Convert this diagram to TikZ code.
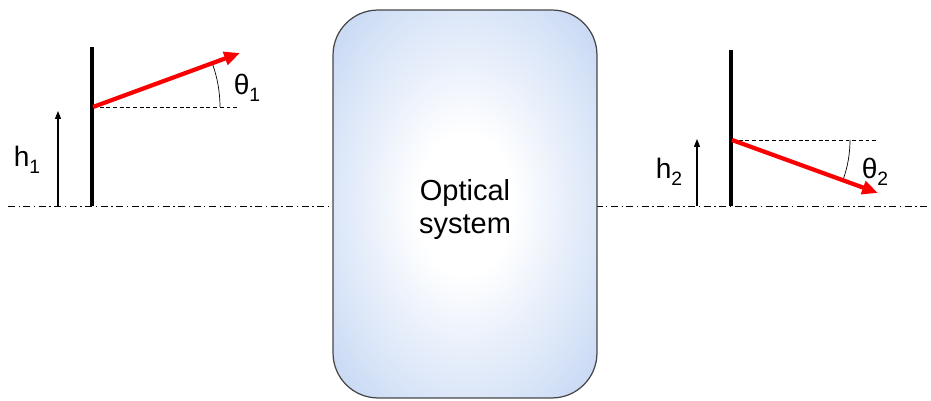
\documentclass[tikz,border=0pt]{standalone}
\usepackage{fontspec}
\setmainfont{Liberation Sans}
\usepackage{tikz}
\usetikzlibrary{arrows.meta,positioning}
\definecolor{boxblue}{RGB}{203,219,245}
\definecolor{boxline}{RGB}{70,70,70}
\definecolor{rayred}{RGB}{250,0,0}
\pgfdeclareradialshading{optshade}{\pgfpoint{0bp}{0bp}}{color(0bp)=(white); color(9bp)=(white); color(32bp)=(boxblue); color(50bp)=(boxblue)}

\begin{document}
\begin{tikzpicture}[x=0.02cm, y=0.02cm,
    axis/.style={line width=0.5pt, dash pattern=on 4pt off 2pt on 0.8pt off 2pt},
    screen/.style={line width=2.4pt},
    ray/.style={rayred, line width=2.4pt, -{Triangle[length=9pt,width=7.5pt]}},
    guide/.style={line width=0.5pt, dash pattern=on 2.2pt off 1.6pt},
    height/.style={line width=0.6pt, -{Triangle[length=4.5pt,width=3.4pt]}},
    optbox/.style={draw=boxline, line width=0.7pt, shading=optshade, rounded corners=0.9cm,
        minimum width=5.28cm, minimum height=7.76cm},
    optlbl/.style={align=center, inner sep=0pt, font=\fontsize{16.5}{18.8}\selectfont},
    lbl/.style={font=\fontsize{16}{18}\selectfont, inner sep=0pt}]

    \useasboundingbox (0,0) rectangle (931,401);

    \coordinate (axl) at (8,195);
    \coordinate (axr) at (930,195);
    \draw[axis] (axl) -- (axr);

    \node[optbox] (opt) at (465,197) {};
    \node[optlbl] (optname) at ([yshift=-0.12cm]opt.center) {Optical\\system};

    % object side
    \coordinate (s1b) at (92,195);
    \coordinate (s1t) at (92,354);
    \coordinate (o1) at (93,294);
    \coordinate (t1) at (240,348);
    \coordinate (d1) at (237,294);
    \coordinate (h1b) at (58,195);
    \coordinate (h1t) at (58,290);
    \draw[screen] (s1b) -- (s1t);
    \draw[guide] (o1) -- (d1);
    \draw[line width=0.4pt] ([shift={(0:127)}]o1) arc[start angle=0, end angle=20, radius=127];
    \draw[ray] (o1) -- (t1);
    \draw[height] (h1b) -- (h1t);
    \node[lbl] (th1) at (247,313) {θ\raisebox{-0.45ex}{\fontsize{11}{12}\selectfont 1}};
    \node[lbl] (lh1) at (27,241) {h\raisebox{-0.45ex}{\fontsize{11}{12}\selectfont 1}};

    % image side
    \coordinate (s2b) at (731,195);
    \coordinate (s2t) at (731,351);
    \coordinate (o2) at (732,261);
    \coordinate (t2) at (878,208);
    \coordinate (d2) at (878,261);
    \coordinate (h2b) at (697,195);
    \coordinate (h2t) at (697,262);
    \draw[screen] (s2b) -- (s2t);
    \draw[guide] (o2) -- (d2);
    \draw[line width=0.4pt] ([shift={(0:118)}]o2) arc[start angle=0, end angle=-20, radius=118];
    \draw[ray] (o2) -- (t2);
    \draw[height] (h2b) -- (h2t);
    \node[lbl] (th2) at (875,229) {θ\raisebox{-0.45ex}{\fontsize{11}{12}\selectfont 2}};
    \node[lbl] (lh2) at (669,229) {h\raisebox{-0.45ex}{\fontsize{11}{12}\selectfont 2}};

\end{tikzpicture}
\end{document}
